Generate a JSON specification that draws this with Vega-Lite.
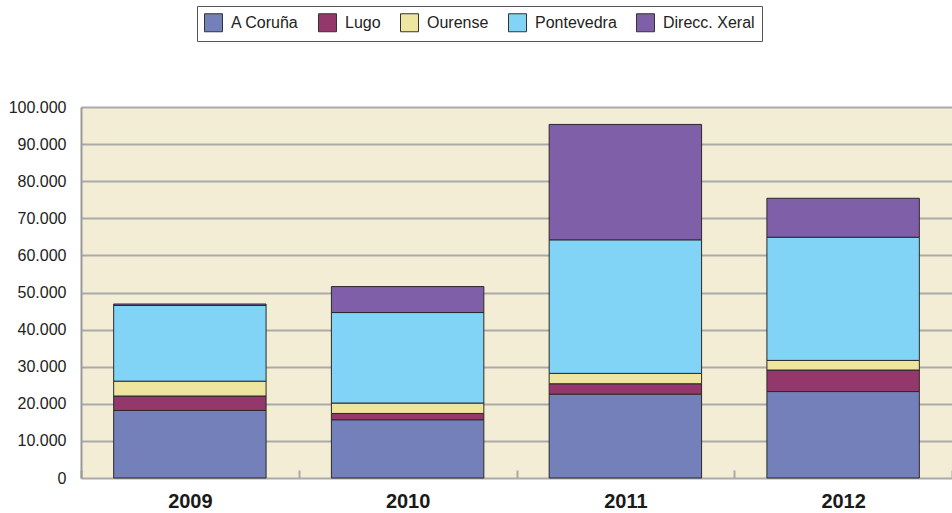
{
  "$schema": "https://vega.github.io/schema/vega-lite/v6.json",
  "autosize": "none",
  "width": 871,
  "height": 371,
  "padding": {"left": 81, "top": 107, "right": 0, "bottom": 35},
  "background": "white",
  "config": {
    "font": "Liberation Sans",
    "view": {"fill": "#F2EDD4", "stroke": null},
    "locale": {"number": {"decimal": ",", "thousands": ".", "grouping": [3], "currency": ["", " €"]}}
  },
  "data": {"values": [
    {"year": "2009", "prov": "A Coruña", "o": 1, "v": 18200},
    {"year": "2009", "prov": "Lugo", "o": 2, "v": 3900},
    {"year": "2009", "prov": "Ourense", "o": 3, "v": 4000},
    {"year": "2009", "prov": "Pontevedra", "o": 4, "v": 20400},
    {"year": "2009", "prov": "Direcc. Xeral", "o": 5, "v": 400},
    {"year": "2010", "prov": "A Coruña", "o": 1, "v": 15700},
    {"year": "2010", "prov": "Lugo", "o": 2, "v": 1700},
    {"year": "2010", "prov": "Ourense", "o": 3, "v": 2800},
    {"year": "2010", "prov": "Pontevedra", "o": 4, "v": 24400},
    {"year": "2010", "prov": "Direcc. Xeral", "o": 5, "v": 7000},
    {"year": "2011", "prov": "A Coruña", "o": 1, "v": 22600},
    {"year": "2011", "prov": "Lugo", "o": 2, "v": 2800},
    {"year": "2011", "prov": "Ourense", "o": 3, "v": 2800},
    {"year": "2011", "prov": "Pontevedra", "o": 4, "v": 36000},
    {"year": "2011", "prov": "Direcc. Xeral", "o": 5, "v": 31100},
    {"year": "2012", "prov": "A Coruña", "o": 1, "v": 23300},
    {"year": "2012", "prov": "Lugo", "o": 2, "v": 5800},
    {"year": "2012", "prov": "Ourense", "o": 3, "v": 2600},
    {"year": "2012", "prov": "Pontevedra", "o": 4, "v": 33200},
    {"year": "2012", "prov": "Direcc. Xeral", "o": 5, "v": 10500}
  ]},
  "mark": {"type": "bar", "stroke": "#2a2a2a", "strokeWidth": 1, "width": {"band": 0.7}},
  "encoding": {
    "x": {
      "field": "year", "type": "nominal",
      "scale": {"paddingInner": 0, "paddingOuter": 0},
      "axis": {
        "title": null, "labelAngle": 0, "labelFontSize": 20, "labelFontWeight": "bold",
        "labelColor": "#1a1a1a", "labelPadding": 13, "tickBand": "extent", "tickSize": 8,
        "offset": -8, "domain": false,
        "tickColor": "#A8A8A8", "tickWidth": 2
      }
    },
    "y": {
      "field": "v", "type": "quantitative", "stack": "zero",
      "scale": {"domain": [0, 100000]},
      "axis": {
        "title": null, "tickCount": 11, "values": [0,10000,20000,30000,40000,50000,60000,70000,80000,90000,100000],
        "format": ",d", "labelFontSize": 16, "labelColor": "#222", "labelPadding": 15, "ticks": false,
        "labelOverlap": false,
        "gridColor": "#AAAAAA", "gridWidth": 2, "domainColor": "#999", "domainWidth": 2
      }
    },
    "color": {
      "field": "prov", "type": "nominal",
      "scale": {
        "domain": ["A Coruña", "Lugo", "Ourense", "Pontevedra", "Direcc. Xeral"],
        "range": ["#7380BA", "#94386C", "#EDE5A0", "#82D4F7", "#7F5FA8"]
      },
      "legend": {
        "title": null, "orient": "none", "direction": "horizontal",
        "legendX": 116, "legendY": -101,
        "symbolType": "square", "symbolSize": 324, "symbolStrokeColor": "#333", "symbolStrokeWidth": 1,
        "labelFontSize": 16, "labelColor": "#222", "labelOffset": 8, "columnPadding": 17,
        "strokeColor": "#555", "padding": 7, "fillColor": "white"
      }
    },
    "order": {"field": "o", "type": "quantitative"}
  }
}
